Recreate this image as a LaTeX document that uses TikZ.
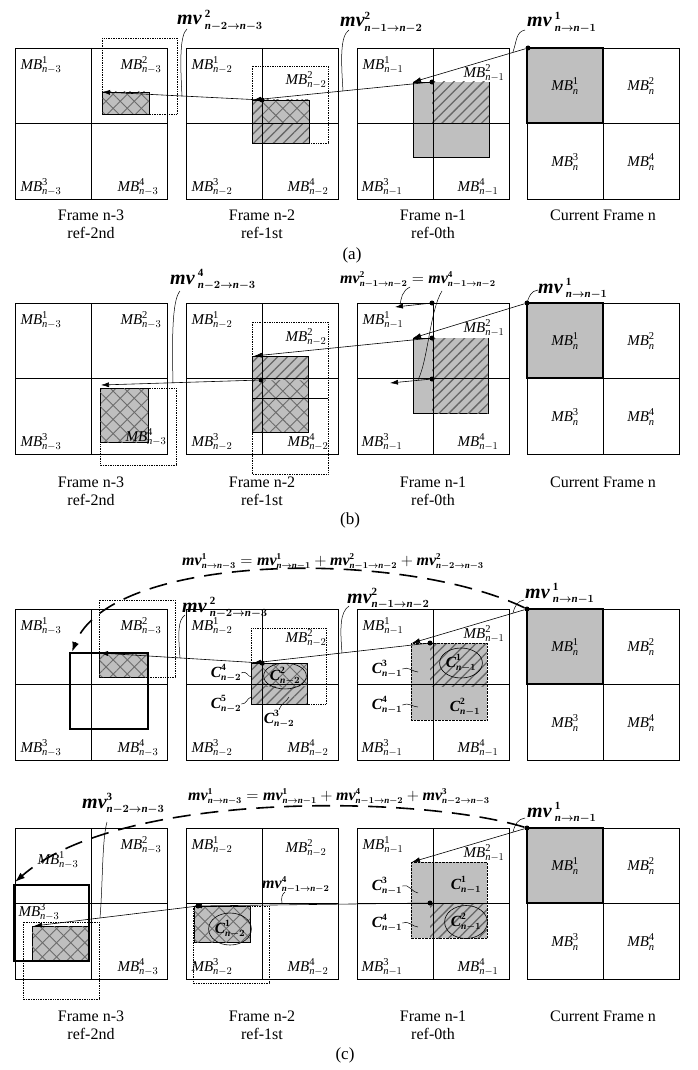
\RequirePackage{fix-cm}
\documentclass[tikz,border=0pt]{standalone}
\usepackage{amsmath}
\usepackage{fontspec}
\setmainfont{Liberation Serif}
\usetikzlibrary{arrows.meta,positioning,patterns.meta,shapes.geometric}
\DeclareMathSizes{20}{20}{11}{8}
\DeclareMathSizes{16}{16}{9}{6}
\DeclareMathSizes{15.5}{15.5}{9.5}{7}
\newcommand{\bfit}[1]{\text{\bfseries\itshape #1}}
\newcommand{\mvl}[4]{\bfit{mv}#1^{\text{\bfseries #2}}_{\bfit{n}\boldsymbol{#3\rightarrow}\bfit{n}\boldsymbol{#4}}}
\newcommand{\mbl}[2]{$\text{\itshape MB}^{\text{#1}}_{\text{\itshape n}#2}$}
\newcommand{\cbl}[2]{$\bfit{C}^{\text{\bfseries #1}}_{\bfit{n}\boldsymbol{#2}}$}

\begin{document}
\begin{tikzpicture}[x=1pt,y=-1pt,
  frameln/.style={draw,line width=0.8pt},
  blk/.style={fill=gray!50},
  dhatch/.style={preaction={fill=gray!50},pattern={Lines[angle=45,distance=7pt,line width=1.3pt]},pattern color=gray!80!black},
  xhatch/.style={preaction={fill=gray!50},pattern={Lines[angle=45,distance=10pt,line width=0.9pt]},pattern color=gray!85!black,
    postaction={pattern={Lines[angle=-45,distance=10pt,line width=0.9pt]},pattern color=gray!85!black}},
  refbox/.style={draw,densely dotted,line width=0.7pt},
  curbox/.style={draw,line width=2.2pt},
  dot/.style={circle,fill=black,inner sep=0pt,minimum size=5pt},
  mvarr/.style={-{Latex[length=8pt,width=5pt]},line width=0.6pt},
  trail/.style={-{Latex[length=10pt,width=7pt]},line width=1.6pt,dash pattern=on 18pt off 10pt},
  lead/.style={line width=0.5pt},
  mblab/.style={font=\fontsize{15}{17}\selectfont,inner sep=0pt},
  mvlab/.style={font=\fontsize{20}{22}\selectfont,inner sep=0pt,anchor=base west},
  eqlab/.style={font=\fontsize{16}{18}\selectfont,inner sep=0pt},
  clab/.style={font=\fontsize{15.5}{17}\selectfont,inner sep=0pt},
  ring/.style={draw,ellipse,line width=0.6pt},
  captxt/.style={font=\fontsize{16}{18}\selectfont,inner sep=0pt}]
\useasboundingbox (0,0) rectangle (697,1070);

% Blocks (a)
\path[xhatch,draw] (102,92) rectangle (149,114);
\path[dhatch] (252,100) rectangle (309,143);
\path[xhatch] (262,100) rectangle (309,123);
\draw (252,100) rectangle (309,143);
\path[blk,draw] (413,82) rectangle (489,157);
\path[dhatch] (432,82) rectangle (489,123);
% Blocks (b)
\path[xhatch,draw] (100,388) rectangle (148,442);
\path[dhatch] (252,356) rectangle (308,432);
\path[xhatch] (262,380) rectangle (308,432);
\draw (252,356) rectangle (308,432);
\path[blk,draw] (413,338) rectangle (488,413);
\path[dhatch] (432,338) rectangle (488,413);
% Blocks (c), upper
\path[xhatch,draw] (99,653) rectangle (148,677);
\path[dhatch] (251,663) rectangle (307,704);
\path[xhatch] (262,663) rectangle (307,686);
\draw (251,663) rectangle (307,704);
\path[blk] (411,643) rectangle (487,720);
\path[dhatch] (430,643) rectangle (487,686);
\draw[densely dotted] (411,643) rectangle (487,720);
% Blocks (c), lower
\path[xhatch,draw] (32,926) rectangle (89,961);
\path[xhatch,draw] (194,906) rectangle (250,942);
\path[blk] (411,862) rectangle (487,938);
\path[dhatch] (430,903) rectangle (487,938);
\draw[densely dotted] (411,862) rectangle (487,938);
% Current MB
\foreach \y in {48,303,609,828}
  \path[blk] (527,\y) rectangle ++(76,75);

% Frames
\foreach \y in {48,303,609,828}
  \foreach \x in {15,186,357,527} {
    \draw[frameln] (\x,\y) rectangle ++(152,151);
    \draw[frameln] (\x+76,\y) -- ++(0,151) (\x,\y+75) -- ++(152,0);
  }
\foreach \y in {48,303,609,828}
  \draw[curbox] (527,\y) rectangle ++(76,75);

% Search windows
\draw[refbox] (102,38) rectangle (177,114);
\draw[refbox] (252,66) rectangle (328,143);
\draw[refbox] (100,388) rectangle (176,465);
\draw[refbox] (252,322) rectangle (328,474);
\draw (252,398) -- (328,398);
\draw[refbox] (99,600) rectangle (175,677);
\draw[refbox] (251,628) rectangle (326,704);
\draw[curbox] (70,653) rectangle (148,729);
\draw[refbox] (23,922) rectangle (99,999);
\draw[refbox] (193,906) rectangle (269,983);
\draw[curbox] (14,885) rectangle (89,961);

% MB labels
\foreach \p/\y/\ax/\ay/\cx/\cy/\dx/\dy in {a/48/41/17/41/139/138/139,b/303/41/17/41/139/146/134,
    c/609/41/17/41/139/138/139,d/828/58/32/39/84/138/139} {
  \node[mblab] (\p-mb3-1) at (\ax,\y+\ay) {\mbl{1}{-3}};
  \node[mblab] (\p-mb3-2) at (141,\y+17) {\mbl{2}{-3}};
  \node[mblab] (\p-mb3-3) at (\cx,\y+\cy) {\mbl{3}{-3}};
  \node[mblab] (\p-mb3-4) at (\dx,\y+\dy) {\mbl{4}{-3}};
}
\foreach \p/\y/\s in {a/48/32,b/303/34,c/609/29,d/828/20} {
  \node[mblab] (\p-mb2-1) at (212,\y+17) {\mbl{1}{-2}};
  \node[mblab] (\p-mb2-2) at (306,\y+\s) {\mbl{2}{-2}};
  \node[mblab] (\p-mb2-3) at (212,\y+139) {\mbl{3}{-2}};
  \node[mblab] (\p-mb2-4) at (308,\y+139) {\mbl{4}{-2}};
  \node[mblab] (\p-mb1-1) at (383,\y+17) {\mbl{1}{-1}};
  \node[mblab] (\p-mb1-2) at (484,\y+25) {\mbl{2}{-1}};
  \node[mblab] (\p-mb1-3) at (382,\y+139) {\mbl{3}{-1}};
  \node[mblab] (\p-mb1-4) at (478,\y+139) {\mbl{4}{-1}};
  \node[mblab] (\p-mb0-1) at (565,\y+38) {\mbl{1}{}};
  \node[mblab] (\p-mb0-2) at (641,\y+38) {\mbl{2}{}};
  \node[mblab] (\p-mb0-3) at (565,\y+114) {\mbl{3}{}};
  \node[mblab] (\p-mb0-4) at (641,\y+114) {\mbl{4}{}};
}

% Captions
\foreach \p/\y in {a/215,b/482,d/1016} {
  \node[captxt] (\p-f3) at (91,\y) {Frame n-3};
  \node[captxt] (\p-r3) at (91,\y+18) {ref-2nd};
  \node[captxt] (\p-f2) at (262,\y) {Frame n-2};
  \node[captxt] (\p-r2) at (262,\y+18) {ref-1st};
  \node[captxt] (\p-f1) at (433,\y) {Frame n-1};
  \node[captxt] (\p-r1) at (433,\y+18) {ref-0th};
  \node[captxt] (\p-f0) at (603,\y) {Current Frame n};
}
\node[captxt,font=\fontsize{17}{19}\selectfont] (sub-a) at (352,255) {(a)};
\node[captxt,font=\fontsize{17}{19}\selectfont] (sub-b) at (350,520) {(b)};
\node[captxt,font=\fontsize{17}{19}\selectfont] (sub-c) at (345,1055) {(c)};

% (a) motion vectors
\node[dot] (a-d0) at (528,48) {};
\node[dot] (a-d1) at (432,82) {};
\node[dot] (a-d2) at (262,100) {};
\coordinate (a-t1) at (413,82);
\coordinate (a-t2) at (253,100);
\coordinate (a-t3) at (102,92);
\draw[mvarr] (a-d0) -- (a-t1);
\draw[mvarr] (a-d1) -- (a-t2);
\draw[mvarr] (a-d2) -- (a-t3);
\node[mvlab] (a-mv3) at (177,25) {$\mvl{\,}{2}{-2}{-3}$};
\node[mvlab] (a-mv2) at (340,27) {$\mvl{}{2}{-1}{-2}$};
\node[mvlab] (a-mv1) at (527,27) {$\mvl{\,}{1}{}{-1}$};
\coordinate (a-l3) at (182,96);
\coordinate (a-k3) at (187,29);
\coordinate (a-l2) at (343,91);
\coordinate (a-k2) at (349,30);
\coordinate (a-l1) at (513,52);
\coordinate (a-k1) at (525,30);
\draw[lead] (a-l3) .. controls (180,60) and (180,35) .. (a-k3);
\draw[lead] (a-l2) .. controls (341,60) and (340,36) .. (a-k2);
\draw[lead] (a-l1) .. controls (517,40) and (516,32) .. (a-k1);

% (b) motion vectors
\node[dot] (b-d0) at (527,303) {};
\node[dot] (b-d1) at (432,303) {};
\node[dot] (b-d2) at (432,338) {};
\node[dot] (b-d3) at (432,379) {};
\node[dot] (b-d4) at (261,380) {};
\coordinate (b-t1) at (413,338);
\coordinate (b-t2) at (395,307);
\coordinate (b-t3) at (390,383);
\coordinate (b-t4) at (254,356);
\coordinate (b-t5) at (101,385);
\draw[mvarr] (b-d0) -- (b-t1);
\draw[mvarr] (b-d1) -- (b-t2);
\draw[mvarr] (b-d3) -- (b-t3);
\draw[mvarr] (b-d2) -- (b-t4);
\draw[mvarr] (b-d4) -- (b-t5);
\node[mvlab] (b-mv4) at (170,284) {$\mvl{\,}{4}{-2}{-3}$};
\node[eqlab,anchor=base west] (b-eq) at (340,283) {$\mvl{}{2}{-1}{-2} = \mvl{}{4}{-1}{-2}$};
\node[mvlab] (b-mv1) at (538,293) {$\mvl{\,}{1}{}{-1}$};
\coordinate (b-l4) at (173,383);
\coordinate (b-k4) at (180,291);
\coordinate (b-k2) at (410,287);
\coordinate (b-l2) at (400,306);
\coordinate (b-k5) at (442,291);
\coordinate (b-l5) at (418,380);
\coordinate (b-k1) at (538,290);
\draw[lead] (b-l4) .. controls (172,340) and (172,300) .. (b-k4);
\draw[lead] (b-k2) .. controls (402,291) and (401,298) .. (b-l2);
\draw[lead] (b-k5) .. controls (430,310) and (428,360) .. (b-l5);
\draw[lead] (b-d0.center) .. controls (529,296) and (531,291) .. (b-k1);

% (c) upper: trace through two frames
\node[dot] (c-d0) at (527,609) {};
\node[dot] (c-d1) at (430,643) {};
\node[dot] (c-d2) at (262,663) {};
\coordinate (c-t1) at (412,643);
\coordinate (c-t2) at (253,663);
\coordinate (c-t3) at (100,653);
\coordinate (c-t4) at (72,652);
\draw[mvarr] (c-d0) -- (c-t1);
\draw[mvarr] (c-d1) -- (c-t2);
\draw[mvarr] (c-d2) -- (c-t3);
\draw[trail] (c-d0) .. controls (400,548) and (110,553) .. (c-t4);
\node[eqlab,anchor=base] (c-eq) at (333,565) {$\mvl{}{1}{}{-3} = \mvl{}{1}{}{-1} + \mvl{}{2}{-1}{-2} + \mvl{}{2}{-2}{-3}$};
\node[mvlab] (c-mv3) at (182,612) {$\mvl{\,}{2}{-2}{-3}$};
\node[mvlab] (c-mv2) at (347,603) {$\mvl{}{2}{-1}{-2}$};
\node[mvlab] (c-mv1) at (525,598) {$\mvl{\,}{1}{}{-1}$};
\coordinate (c-l3) at (180,658);
\coordinate (c-k3) at (185,615);
\coordinate (c-l2) at (342,653);
\coordinate (c-k2) at (349,606);
\coordinate (c-l1) at (513,613);
\coordinate (c-k1) at (524,600);
\draw[lead] (c-l3) .. controls (178,632) and (178,620) .. (c-k3);
\draw[lead] (c-l2) .. controls (340,628) and (340,612) .. (c-k2);
\draw[lead] (c-l1) .. controls (515,605) and (518,601) .. (c-k1);
% candidate blocks
\node[clab,ring,minimum width=36pt,minimum height=23pt] (c-c22) at (285,676) {\cbl{2}{-2}};
\node[clab] (c-c24) at (226,673) {\cbl{4}{-2}};
\node[clab] (c-c25) at (226,704) {\cbl{5}{-2}};
\node[clab] (c-c23) at (279,719) {\cbl{3}{-2}};
\node[clab,ring,minimum width=38pt,minimum height=30pt] (c-c11) at (461,663) {\cbl{1}{-1}};
\node[clab] (c-c12) at (465,707) {\cbl{2}{-1}};
\node[clab] (c-c13) at (387,669) {\cbl{3}{-1}};
\node[clab] (c-c14) at (387,705) {\cbl{4}{-1}};
\coordinate (c-e24) at (252,677);
\coordinate (c-e25) at (251,697);
\coordinate (c-e23) at (289,697);
\coordinate (c-e13) at (418,672);
\coordinate (c-e14) at (418,707);
\draw[lead] (c-c24.east) .. controls +(6,-3) and +(-5,0) .. (c-e24);
\draw[lead] (c-c25.east) .. controls +(6,0) and +(-5,2) .. (c-e25);
\draw[lead] (c-c23.north) .. controls +(2,-6) and +(-2,4) .. (c-e23);
\draw[lead] (c-c13.east) .. controls +(6,-3) and +(-5,0) .. (c-e13);
\draw[lead] (c-c14.east) .. controls +(6,-3) and +(-5,0) .. (c-e14);

% (c) lower
\node[dot] (d-d0) at (527,828) {};
\node[dot] (d-d1) at (430,903) {};
\node[dot] (d-d2) at (198,906) {};
\coordinate (d-t1) at (412,862);
\coordinate (d-t2) at (194,906);
\coordinate (d-t3) at (34,926);
\coordinate (d-t4) at (15,882);
\draw[mvarr] (d-d0) -- (d-t1);
\draw[mvarr] (d-d1) -- (d-t2);
\draw[mvarr] (d-d2) -- (d-t3);
\draw[trail] (d-d0) .. controls (420,795) and (120,790) .. (d-t4);
\node[eqlab,anchor=base] (d-eq) at (339,800) {$\mvl{}{1}{}{-3} = \mvl{}{1}{}{-1} + \mvl{}{4}{-1}{-2} + \mvl{}{3}{-2}{-3}$};
\node[mvlab] (d-mv3) at (82,808) {$\mvl{}{3}{-2}{-3}$};
\node[eqlab,anchor=base west] (d-mv4) at (262,888) {$\mvl{}{4}{-1}{-2}$};
\node[mvlab] (d-mv1) at (527,817) {$\mvl{\,}{1}{}{-1}$};
\coordinate (d-l3) at (100,918);
\coordinate (d-k3) at (107,822);
\coordinate (d-l4) at (282,903);
\coordinate (d-k4) at (285,892);
\coordinate (d-l1) at (513,832);
\coordinate (d-k1) at (525,818);
\draw[lead] (d-l3) .. controls (103,880) and (102,840) .. (d-k3);
\draw[lead] (d-l4) .. controls (281,898) and (282,894) .. (d-k4);
\draw[lead] (d-l1) .. controls (515,824) and (518,819) .. (d-k1);
\node[clab,ring,minimum width=36pt,minimum height=32pt] (d-c21) at (230,929) {\cbl{1}{-2}};
\node[clab,ring,minimum width=40pt,minimum height=33pt] (d-c12) at (466,922) {\cbl{2}{-1}};
\node[clab] (d-c11) at (466,885) {\cbl{1}{-1}};
\node[clab] (d-c13) at (387,886) {\cbl{3}{-1}};
\node[clab] (d-c14) at (387,923) {\cbl{4}{-1}};
\coordinate (d-e13) at (418,893);
\coordinate (d-e14) at (418,927);
\draw[lead] (d-c13.east) .. controls +(6,-3) and +(-5,0) .. (d-e13);
\draw[lead] (d-c14.east) .. controls +(6,-3) and +(-5,0) .. (d-e14);
\end{tikzpicture}
\end{document}
